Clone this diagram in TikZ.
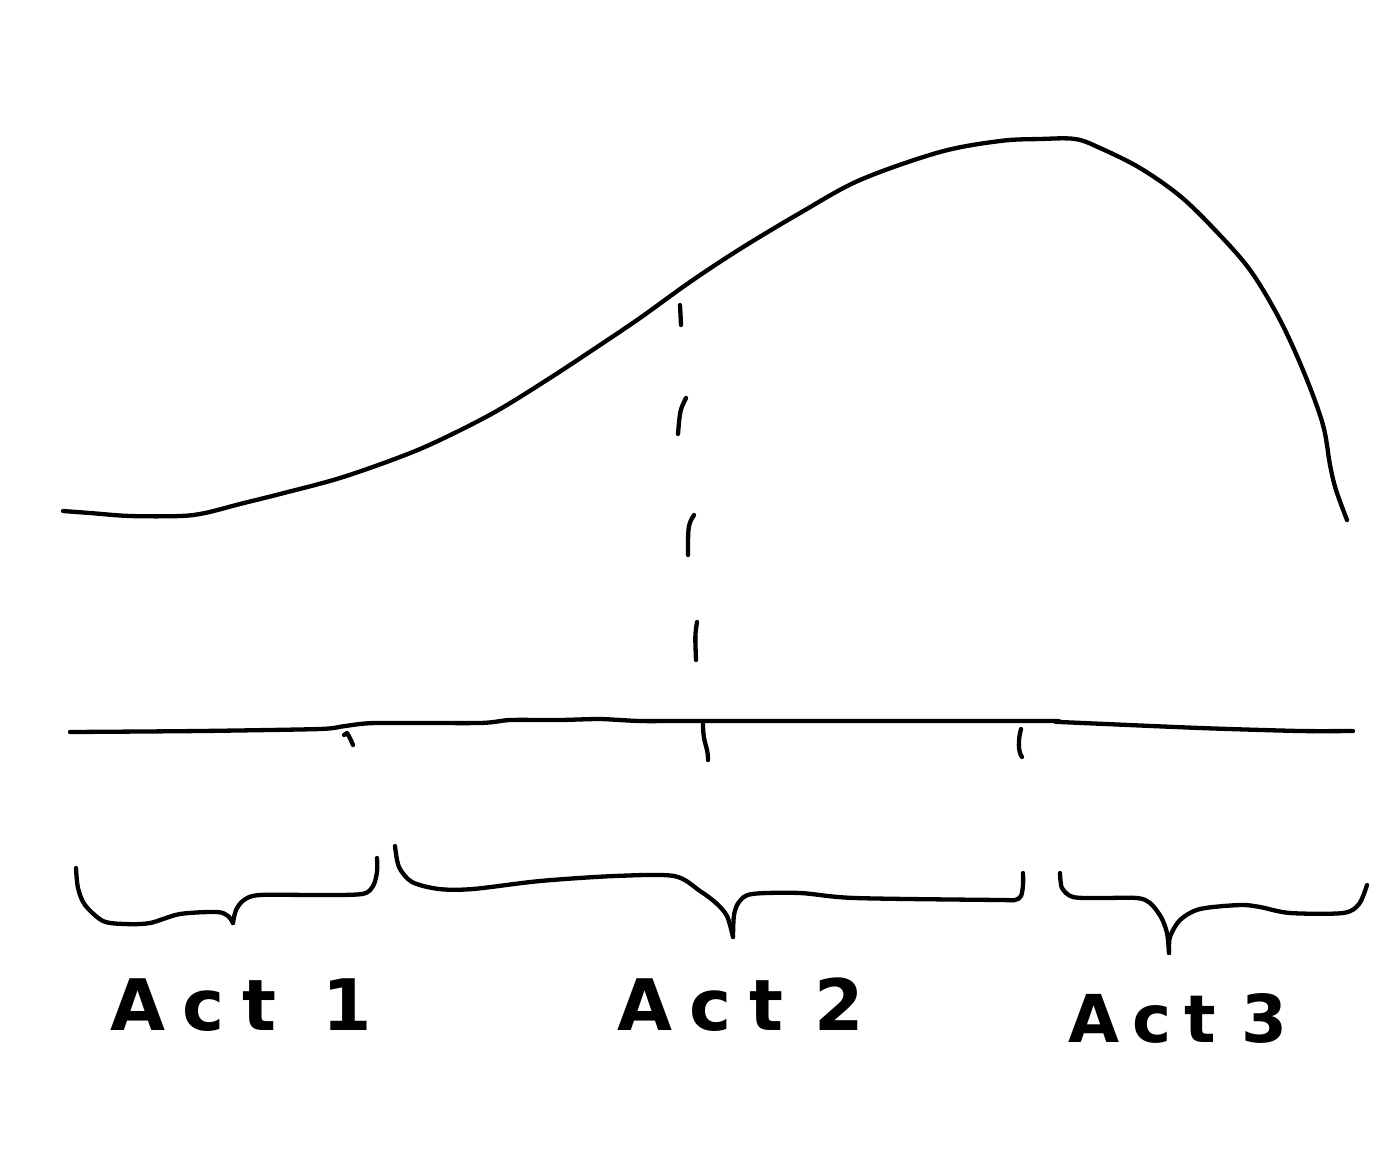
\documentclass[tikz,border=0pt]{standalone}
\usepackage{fontspec}
\setmainfont{DejaVu Sans}
\begin{document}
\begin{tikzpicture}[x=1pt,y=-1pt,
  ink/.style={line width=4.3pt,line cap=round,line join=round,black},
  actlabel/.style={anchor=base west,inner sep=0pt,font=\bfseries\fontsize{71}{75}\selectfont\addfontfeature{LetterSpace=25}},
  smallact/.style={actlabel,font=\bfseries\fontsize{66}{70}\selectfont\addfontfeature{LetterSpace=20}}]
\useasboundingbox[fill=white] (0,0) rectangle (1383,1173);
% rising and falling curve
\draw[ink] plot[smooth,tension=0.55] coordinates {(63,511) (90,513) (130,516) (180,516) (205,513) (240,504) (280,494) (340,478) (400,457) (440,440) (495,412) (550,378) (600,345) (640,318) (690,282) (740,249) (800,213) (860,180) (940,152) (1000,141) (1040,139) (1075,139) (1100,148) (1140,168) (1180,196) (1215,230) (1250,270) (1280,320) (1305,375) (1323,425) (1330,465) (1336,490) (1347,520)};
% dashed midpoint marker
\draw[ink] (680,305) -- (681,325);
\draw[ink] (686,398) .. controls (680,410) .. (678,434);
\draw[ink] (694,515) .. controls (688,525) .. (688,555);
\draw[ink] (697,622) .. controls (695,635) .. (696,660);
% time line
\draw[ink] plot[smooth,tension=0.4] coordinates {(70,732) (200,731) (320,729) (345,726) (375,723) (480,723) (510,720) (560,720) (600,719) (640,721) (700,721) (1040,721) (1060,722) (1200,728) (1300,731) (1353,731)};
% ticks
\draw[ink] (344,735) -- (347,733) .. controls (350,738) .. (353,745);
\draw[ink] (703,724) .. controls (703,745) and (708,745) .. (708,760);
\draw[ink] (1021,729) .. controls (1018,740) and (1018,752) .. (1022,757);
% brace 1
\draw[ink] plot[smooth,tension=0.5] coordinates {(76,868) (78,888) (85,905) (103,921) (125,924) (150,923) (180,914) (217,912) (228,916) (233,923)};
\draw[ink] plot[smooth,tension=0.5] coordinates {(233,923) (236,910) (244,900) (260,895) (320,895) (362,894) (373,886) (377,872) (377,858)};
% brace 2
\draw[ink] plot[smooth,tension=0.5] coordinates {(395,846) (399,867) (412,882) (439,889) (473,889) (540,881) (615,876) (674,876) (700,891) (716,903) (727,916) (733,937)};
\draw[ink] plot[smooth,tension=0.5] coordinates {(733,937) (734,915) (739,902) (752,894) (800,893) (855,898) (1000,900) (1015,900) (1021,896) (1023,885) (1023,873)};
% brace 3
\draw[ink] plot[smooth,tension=0.5] coordinates {(1060,873) (1062,888) (1073,897) (1100,898) (1137,898) (1150,903) (1161,917) (1167,933) (1169,953)};
\draw[ink] plot[smooth,tension=0.5] coordinates {(1169,953) (1170,937) (1180,920) (1200,909) (1240,905) (1260,907) (1290,913) (1343,913) (1359,904) (1367,885)};
% labels
\node[actlabel] (act1) at (110,1030) {Act\hspace{46pt}1};
\node[actlabel] (act2) at (617,1030) {Act\hspace{31pt}2};
\node[smallact] (act3) at (1068,1042) {Act\hspace{25pt}3};
\end{tikzpicture}
\end{document}
